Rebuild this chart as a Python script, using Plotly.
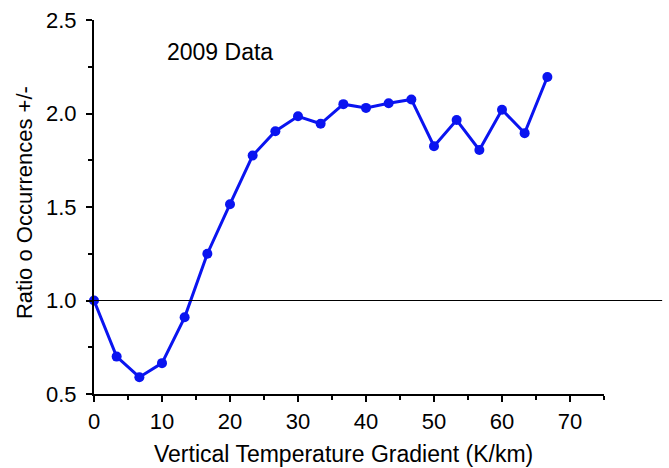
import plotly.graph_objects as go

# Vertical temperature gradient bins (K/km) and the ratio of occurrences
gradient = [0, 3.33, 6.67, 10, 13.33, 16.67, 20, 23.33, 26.67, 30, 33.33,
            36.67, 40, 43.33, 46.67, 50, 53.33, 56.67, 60, 63.33, 66.67]
ratio = [1.00, 0.70, 0.59, 0.665, 0.91, 1.25, 1.515, 1.775, 1.905, 1.985, 1.945,
         2.05, 2.03, 2.055, 2.075, 1.825, 1.965, 1.805, 2.02, 1.895, 2.195]

x_ticks = [0, 10, 20, 30, 40, 50, 60, 70]
y_ticks = [0.5, 1.0, 1.5, 2.0, 2.5]
reference_level = 1.0

font = "Liberation Sans, Arial, Helvetica, sans-serif"

fig = go.Figure()
fig.add_trace(go.Scatter(
    x=gradient, y=ratio, mode="lines+markers",
    line=dict(color="#0a14f0", width=3),
    marker=dict(color="#0a14f0", size=10),
    cliponaxis=False, showlegend=False,
))

# Unity reference line, running past the end of the x axis
fig.add_shape(type="line", xref="paper", yref="y",
              x0=0, x1=1.114, y0=reference_level, y1=reference_level,
              line=dict(color="black", width=1.2))

fig.add_annotation(text="2009 Data", xref="x", yref="y", x=10.5, y=2.33,
                   xanchor="left", yanchor="middle", showarrow=False,
                   font=dict(family=font, size=23, color="black"))

# Axis titles placed as paper annotations
fig.add_annotation(text="Vertical Temperature Gradient (K/km)",
                   xref="paper", yref="paper", x=0.49, y=-0.161,
                   xanchor="center", yanchor="middle", showarrow=False,
                   font=dict(family=font, size=23, color="black"))
fig.add_annotation(text="Ratio o Occurrences +/-",
                   xref="paper", yref="paper", x=-0.135, y=0.511, textangle=-90,
                   xanchor="center", yanchor="middle", showarrow=False,
                   font=dict(family=font, size=22, color="black"))

axis_common = dict(
    showline=True, linecolor="black", linewidth=2, mirror=False,
    showgrid=False, zeroline=False, automargin=False,
    ticks="outside", ticklen=6, tickwidth=2, tickcolor="black",
    tickfont=dict(family=font, size=22, color="black"),
)

fig.update_xaxes(
    range=[0, 75], tickvals=x_ticks, ticklabelstandoff=1,
    minor=dict(dtick=5, tick0=0, ticks="outside", ticklen=4, tickwidth=2,
               tickcolor="black", showgrid=False),
    **axis_common,
)
fig.update_yaxes(
    range=[0.5, 2.5], tickvals=y_ticks, tickformat=".1f", ticklabelstandoff=5,
    minor=dict(dtick=0.25, tick0=0.5, ticks="outside", ticklen=4, tickwidth=2,
               tickcolor="black", showgrid=False),
    **axis_common,
)

fig.update_layout(
    width=669, height=468,
    margin=dict(l=94, r=65, t=20, b=74),
    plot_bgcolor="white", paper_bgcolor="white",
)

fig.write_html("out.html")
